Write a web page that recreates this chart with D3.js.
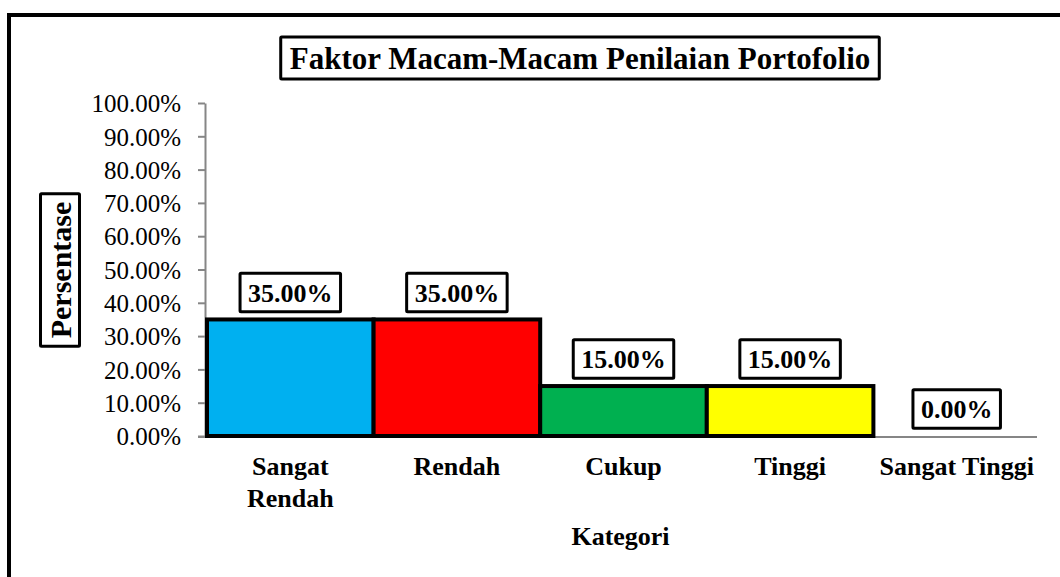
<!DOCTYPE html>
<html>
<head>
<meta charset="utf-8">
<style>
  body { margin: 0; background: #fff; }
  svg { display: block; font-family: "Liberation Serif", "Times New Roman", serif; }
  .tick text { font-size: 25px; fill: #000; }
  .axis path, .axis line { stroke: #868686; stroke-width: 2; }
</style>
</head>
<body>
<svg id="chart"></svg>
<script src="https://cdn.jsdelivr.net/npm/d3@7"></script>
<script>
var categories = ['Sangat Rendah', 'Rendah', 'Cukup', 'Tinggi', 'Sangat Tinggi'];
var values = [0.35, 0.35, 0.15, 0.15, 0.00];
var colors = ['#00B0F0', '#FF0000', '#00B050', '#FFFF00', '#FFFFFF'];
var yTicks = [0, 0.1, 0.2, 0.3, 0.4, 0.5, 0.6, 0.7, 0.8, 0.9, 1.0];

var W = 1060, H = 577;
var margin = { top: 103, right: 20, bottom: 141, left: 207 };
var width = W - margin.left - margin.right,
    height = H - margin.top - margin.bottom;

var svg = d3.select('#chart').attr('width', W).attr('height', H);

// outer frame (only left and top edges show in the picture)
svg.append('rect')
  .attr('x', 9).attr('y', 15)
  .attr('width', W + 20).attr('height', H + 20)
  .attr('fill', 'none').attr('stroke', '#000').attr('stroke-width', 4);

var g = svg.append('g').attr('transform', 'translate(' + margin.left + ',' + margin.top + ')');

var x = d3.scaleBand().domain(categories).range([0, width]).padding(0);
var y = d3.scaleLinear().domain([0, 1]).range([height, 0]);

var yAxis = d3.axisLeft(y).tickValues(yTicks).tickFormat(d3.format('.2%'))
  .tickSize(7).tickPadding(17).tickSizeOuter(0);

var ya = g.append('g').attr('class', 'axis').attr('transform', 'translate(-2,0)').call(yAxis)
  .attr('font-family', '"Liberation Serif", "Times New Roman", serif');
ya.selectAll('.tick text').attr('dy', '0.35em');

// x axis base line
g.append('line').attr('class', 'axis')
  .attr('x1', -9).attr('x2', width - 3)
  .attr('y1', height + 1).attr('y2', height + 1)
  .attr('stroke', '#868686').attr('stroke-width', 2);

// bars
var data = categories.map(function (c, i) { return { cat: c, v: values[i], col: colors[i] }; });

g.selectAll('rect.bar')
  .data(data.filter(function (d) { return d.v > 0; }))
  .enter().append('rect')
  .attr('class', 'bar')
  .attr('x', function (d) { return x(d.cat); })
  .attr('y', function (d) { return y(d.v); })
  .attr('width', x.bandwidth())
  .attr('height', function (d) { return height - y(d.v); })
  .attr('fill', function (d) { return d.col; })
  .attr('stroke', '#000').attr('stroke-width', 4);

// boxed text helper
function boxedText(parent, txt, cx, cy, size, padX, padY, rotate) {
  var grp = parent.append('g').attr('transform', 'translate(' + cx + ',' + cy + ')' + (rotate ? ' rotate(' + rotate + ')' : ''));
  var r = grp.append('rect');
  var t = grp.append('text')
    .attr('text-anchor', 'middle').attr('dy', '0.35em')
    .attr('font-weight', 'bold').attr('font-size', size + 'px')
    .text(txt);
  var w = t.node().getComputedTextLength();
  var h = size * 1.1;
  r.attr('x', -w / 2 - padX).attr('y', -h / 2 - padY)
    .attr('width', w + 2 * padX).attr('height', h + 2 * padY)
    .attr('fill', '#fff').attr('stroke', '#000').attr('stroke-width', 3).attr('rx', 1);
  return grp;
}

// data labels
data.forEach(function (d) {
  boxedText(g, d3.format('.2%')(d.v), x(d.cat) + x.bandwidth() / 2, y(d.v) - 27, 26, 8, 5);
});

// category labels with wrap
data.forEach(function (d) {
  var t = g.append('text')
    .attr('x', x(d.cat) + x.bandwidth() / 2)
    .attr('y', height + 39)
    .attr('text-anchor', 'middle')
    .attr('font-weight', 'bold').attr('font-size', '26px')
    .text(d.cat);
  if (t.node().getComputedTextLength() > x.bandwidth() - 4) {
    var words = d.cat.split(' ');
    t.text(null);
    words.forEach(function (wd, i) {
      t.append('tspan').attr('x', x(d.cat) + x.bandwidth() / 2)
        .attr('dy', i === 0 ? 0 : 32).text(wd);
    });
  }
});

// axis titles
g.append('text')
  .attr('x', width / 2 - 3).attr('y', height + 109)
  .attr('text-anchor', 'middle')
  .attr('font-weight', 'bold').attr('font-size', '26px')
  .text('Kategori');

boxedText(svg, 'Persentase', 60, 270, 30, 8, 3, -90);

// chart title
boxedText(svg, 'Faktor Macam-Macam Penilaian Portofolio', 580, 58, 31, 9, 4);
</script>
</body>
</html>
